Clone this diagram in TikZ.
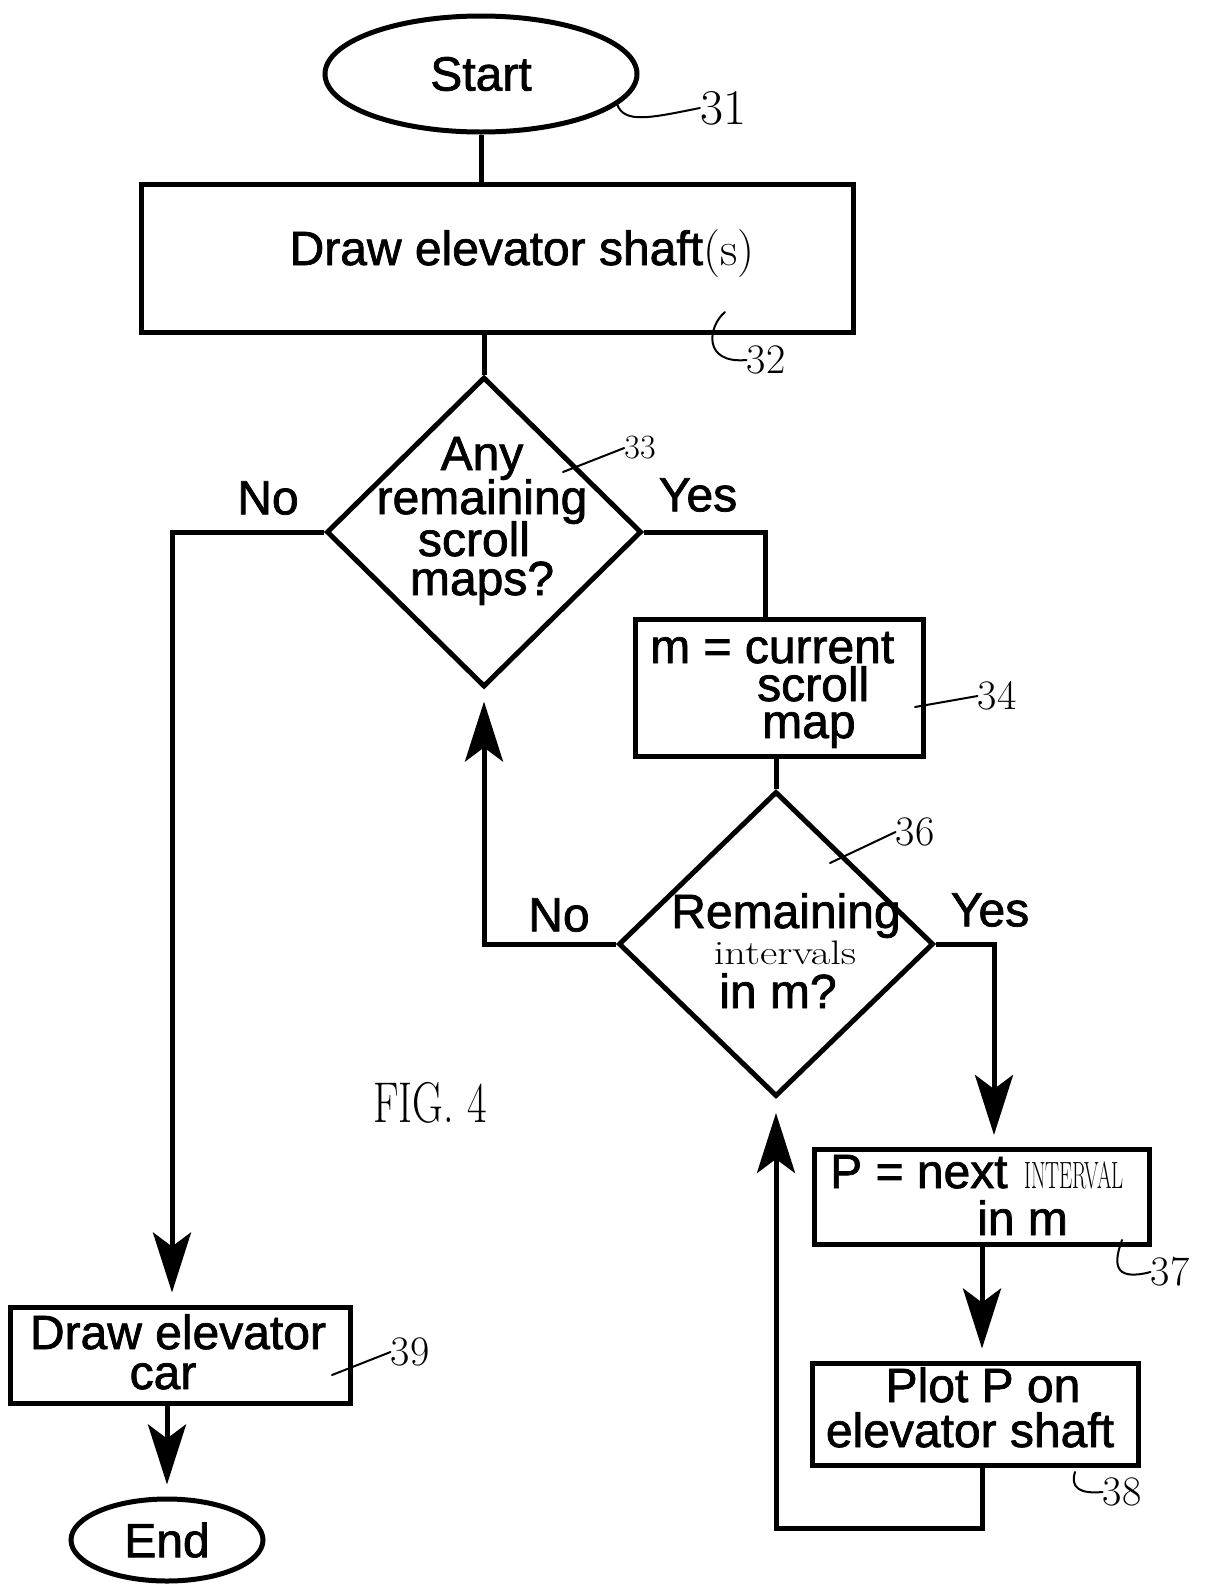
\documentclass[tikz,border=0pt]{standalone}
\usepackage{fontspec}
\usepackage{graphicx}
\newfontfamily\hv{Liberation Sans}[FakeBold=1.5]
\usetikzlibrary{shapes.geometric,arrows.meta,calc}
\begin{document}
\begin{tikzpicture}[x=1pt,y=-1pt,
  ln/.style={line width=5pt},
  arr/.style={line width=5pt,-{Stealth[length=60pt,width=38pt,inset=14pt]},shorten >=12pt},
  box/.style={draw,rectangle,line width=5pt,inner sep=0pt},
  term/.style={draw,ellipse,line width=5pt,inner sep=0pt,font=\hv\fontsize{48}{48}\selectfont},
  dec/.style={draw,diamond,line width=5pt,inner sep=0pt},
  tx/.style={font=\hv\fontsize{48}{48}\selectfont,inner sep=0pt},
  hw/.style={font=\fontsize{42}{42}\selectfont,inner sep=0pt},
  lead/.style={line width=2pt,line cap=round}]
\useasboundingbox[fill=white] (0,0) rectangle (1207,1585);

% nodes
\node[term,minimum width=312pt,minimum height=116pt] (start) at (481,74) {Start};
\node[box,minimum width=712pt,minimum height=148pt] (b32) at (497,258) {};
\node[tx,anchor=base] (t32) at (522,265) {Draw elevator shaft{\rmfamily\mdseries(s)}};

\node[dec,minimum width=315pt,minimum height=310pt] (d33) at (484,532) {};
\node[tx,anchor=base] (t33a) at (482,470) {Any};
\node[tx,anchor=base] (t33b) at (482,514) {remaining};
\node[tx,anchor=base] (t33c) at (474,556) {scroll};
\node[tx,anchor=base] (t33d) at (482,595) {maps?};

\node[box,minimum width=288pt,minimum height=137pt] (b34) at (779,688) {};
\node[tx,anchor=base west] (t34a) at (650,663) {m = current};
\node[tx,anchor=base west] (t34b) at (757,701) {scroll};
\node[tx,anchor=base west] (t34c) at (762,738) {map};

\node[dec,minimum width=315pt,minimum height=305pt] (d36) at (776,944) {};
\node[tx,anchor=base] (t36a) at (786,928) {Remaining};
\node[anchor=base,inner sep=0pt] (t36b) at (785,964) {\scalebox{1.25}[1]{\fontsize{34}{34}\selectfont intervals}};
\node[tx,anchor=base] (t36c) at (778,1008) {in m?};

\node[box,minimum width=335pt,minimum height=95pt] (b37) at (982,1197) {};
\node[tx,anchor=base west] (t37a) at (830,1188) {P = next};
\node[anchor=base west,inner sep=0pt] (t37b) at (1024,1188) {\scalebox{0.55}[1]{\fontsize{38}{38}\selectfont INTERVAL}};
\node[tx,anchor=base west] (t37c) at (977,1235) {in m};

\node[box,minimum width=326pt,minimum height=102pt] (b38) at (975,1414) {};
\node[tx,anchor=base] (t38a) at (983,1402) {Plot P on};
\node[tx,anchor=base] (t38b) at (970,1447) {elevator shaft};

\node[box,minimum width=340pt,minimum height=96pt] (b39) at (180,1355) {};
\node[tx,anchor=base] (t39a) at (178,1349) {Draw elevator};
\node[tx,anchor=base] (t39b) at (163,1389) {car};

\node[term,minimum width=192pt,minimum height=82pt] (end) at (167,1540) {End};

% branch labels
\node[tx] (no1) at (268,498) {No};
\node[tx] (yes1) at (698,495) {Yes};
\node[tx] (no2) at (559,915) {No};
\node[tx] (yes2) at (990,910) {Yes};

% helper coordinates
\coordinate (xl) at (172,0);
\coordinate (xy) at (765,0);
\coordinate (xr) at (994,0);
\coordinate (xm) at (982,0);
\coordinate (lp) at (982,1528);

% connectors
\draw[ln] (start.south) -- (start.south |- b32.north);
\draw[ln] (b32.south -| d33.north) -- (d33.north);
\draw[arr] (d33.west) -| (b39.north -| xl);
\draw[ln] (d33.east) -| (b34.north -| xy);
\draw[ln] (b34.south -| d36.north) -- (d36.north);
\draw[arr] (d36.west) -| (d33.south);
\draw[arr] (d36.east) -| (b37.north -| xr);
\draw[arr] (b37.south -| xm) -- (b38.north -| xm);
\draw[arr,shorten >=14pt] (b38.south -| xm) -- (lp) -| (d36.south);
\draw[arr] (b39.south -| end.north) -- (end.north);

% reference numerals
\node[hw,font=\fontsize{50}{50}\selectfont] (l31) at (723,108) {31};
\coordinate (a31) at (617,104);
\draw[lead] (a31) .. controls (624,124) and (650,118) .. (l31.west);

\node[hw] (l32) at (766,360) {32};
\coordinate (a32) at (725,312);
\draw[lead] (a32) .. controls (708,326) and (702,364) .. (l32.west);

\node[hw,font=\fontsize{34}{34}\selectfont] (l33) at (640,448) {33};
\coordinate (a33) at (563,472);
\draw[lead] (a33) -- (l33.west);

\node[hw] (l34) at (997,696) {34};
\coordinate (a34) at (915,707);
\draw[lead] (a34) -- (l34.west);

\node[hw] (l36) at (915,832) {36};
\coordinate (a36) at (830,863);
\draw[lead] (a36) -- (l36.west);

\node[hw] (l37) at (1170,1272) {37};
\coordinate (a37) at (1122,1240);
\draw[lead] (a37) .. controls (1114,1262) and (1112,1282) .. (l37.west);

\node[hw] (l38) at (1122,1492) {38};
\coordinate (a38) at (1075,1472);
\draw[lead] (a38) .. controls (1070,1488) and (1080,1494) .. (l38.west);

\node[hw] (l39) at (410,1352) {39};
\coordinate (a39) at (332,1375);
\draw[lead] (a39) -- (l39.west);

\node[inner sep=0pt] (fig) at (430,1103) {\scalebox{0.85}[1.15]{\fontsize{50}{50}\selectfont FIG. 4}};
\end{tikzpicture}
\end{document}
